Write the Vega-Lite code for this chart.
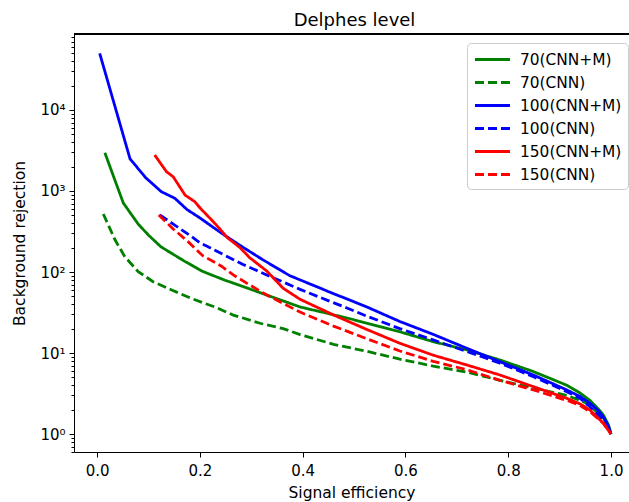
{
  "$schema": "https://vega.github.io/schema/vega-lite/v6.json",
  "width": 555,
  "height": 418,
  "autosize": {"type": "none"},
  "padding": {"left": 74, "top": 34, "right": 0, "bottom": 50},
  "background": "white",
  "title": {"text": "Delphes level", "fontSize": 18, "font": "DejaVu Sans", "fontWeight": "normal", "color": "black", "offset": 0, "dx": 3},
  "config": {
    "view": {"stroke": null},
    "axis": {"domainColor": "black", "domainWidth": 1, "tickColor": "black", "tickWidth": 1, "labelColor": "black", "titleColor": "black", "labelFont": "DejaVu Sans", "titleFont": "DejaVu Sans", "titleFontWeight": "normal", "grid": false}
  },
  "data": {"values": [
    {"series": "70(CNN+M)", "eff": 0.015, "rej": 2970},
    {"series": "70(CNN+M)", "eff": 0.033, "rej": 1450},
    {"series": "70(CNN+M)", "eff": 0.051, "rej": 710},
    {"series": "70(CNN+M)", "eff": 0.08, "rej": 390},
    {"series": "70(CNN+M)", "eff": 0.1, "rej": 285},
    {"series": "70(CNN+M)", "eff": 0.124, "rej": 205},
    {"series": "70(CNN+M)", "eff": 0.17, "rej": 136},
    {"series": "70(CNN+M)", "eff": 0.205, "rej": 102},
    {"series": "70(CNN+M)", "eff": 0.249, "rej": 79},
    {"series": "70(CNN+M)", "eff": 0.265, "rej": 73},
    {"series": "70(CNN+M)", "eff": 0.33, "rej": 52},
    {"series": "70(CNN+M)", "eff": 0.395, "rej": 37},
    {"series": "70(CNN+M)", "eff": 0.447, "rej": 31},
    {"series": "70(CNN+M)", "eff": 0.492, "rej": 26.5},
    {"series": "70(CNN+M)", "eff": 0.525, "rej": 23.3},
    {"series": "70(CNN+M)", "eff": 0.589, "rej": 18.3},
    {"series": "70(CNN+M)", "eff": 0.654, "rej": 13.8},
    {"series": "70(CNN+M)", "eff": 0.72, "rej": 10.9},
    {"series": "70(CNN+M)", "eff": 0.784, "rej": 8.2},
    {"series": "70(CNN+M)", "eff": 0.849, "rej": 5.9},
    {"series": "70(CNN+M)", "eff": 0.914, "rej": 4.0},
    {"series": "70(CNN+M)", "eff": 0.94, "rej": 3.2},
    {"series": "70(CNN+M)", "eff": 0.959, "rej": 2.6},
    {"series": "70(CNN+M)", "eff": 0.975, "rej": 2.05},
    {"series": "70(CNN+M)", "eff": 0.985, "rej": 1.72},
    {"series": "70(CNN+M)", "eff": 0.995, "rej": 1.3},
    {"series": "70(CNN+M)", "eff": 1.0, "rej": 1.0},

    {"series": "70(CNN)", "eff": 0.012, "rej": 520},
    {"series": "70(CNN)", "eff": 0.035, "rej": 248},
    {"series": "70(CNN)", "eff": 0.054, "rej": 154},
    {"series": "70(CNN)", "eff": 0.08, "rej": 101},
    {"series": "70(CNN)", "eff": 0.109, "rej": 76},
    {"series": "70(CNN)", "eff": 0.145, "rej": 60},
    {"series": "70(CNN)", "eff": 0.184, "rej": 47},
    {"series": "70(CNN)", "eff": 0.229, "rej": 37},
    {"series": "70(CNN)", "eff": 0.265, "rej": 29.4},
    {"series": "70(CNN)", "eff": 0.317, "rej": 23.3},
    {"series": "70(CNN)", "eff": 0.362, "rej": 20},
    {"series": "70(CNN)", "eff": 0.395, "rej": 16.9},
    {"series": "70(CNN)", "eff": 0.46, "rej": 12.8},
    {"series": "70(CNN)", "eff": 0.525, "rej": 10.5},
    {"series": "70(CNN)", "eff": 0.589, "rej": 8.4},
    {"series": "70(CNN)", "eff": 0.654, "rej": 6.9},
    {"series": "70(CNN)", "eff": 0.72, "rej": 5.8},
    {"series": "70(CNN)", "eff": 0.784, "rej": 4.6},
    {"series": "70(CNN)", "eff": 0.849, "rej": 3.7},
    {"series": "70(CNN)", "eff": 0.914, "rej": 3.0},
    {"series": "70(CNN)", "eff": 0.953, "rej": 2.4},
    {"series": "70(CNN)", "eff": 0.985, "rej": 1.6},
    {"series": "70(CNN)", "eff": 1.0, "rej": 1.0},

    {"series": "100(CNN+M)", "eff": 0.005, "rej": 50000},
    {"series": "100(CNN+M)", "eff": 0.064, "rej": 2500},
    {"series": "100(CNN+M)", "eff": 0.094, "rej": 1470},
    {"series": "100(CNN+M)", "eff": 0.125, "rej": 980},
    {"series": "100(CNN+M)", "eff": 0.151, "rej": 815},
    {"series": "100(CNN+M)", "eff": 0.175, "rej": 590},
    {"series": "100(CNN+M)", "eff": 0.2, "rej": 465},
    {"series": "100(CNN+M)", "eff": 0.24, "rej": 308},
    {"series": "100(CNN+M)", "eff": 0.278, "rej": 213},
    {"series": "100(CNN+M)", "eff": 0.323, "rej": 141},
    {"series": "100(CNN+M)", "eff": 0.375, "rej": 90},
    {"series": "100(CNN+M)", "eff": 0.427, "rej": 66},
    {"series": "100(CNN+M)", "eff": 0.46, "rej": 54},
    {"series": "100(CNN+M)", "eff": 0.492, "rej": 45},
    {"series": "100(CNN+M)", "eff": 0.525, "rej": 37},
    {"series": "100(CNN+M)", "eff": 0.589, "rej": 24.5},
    {"series": "100(CNN+M)", "eff": 0.654, "rej": 17},
    {"series": "100(CNN+M)", "eff": 0.72, "rej": 11.4},
    {"series": "100(CNN+M)", "eff": 0.784, "rej": 7.8},
    {"series": "100(CNN+M)", "eff": 0.849, "rej": 5.35},
    {"series": "100(CNN+M)", "eff": 0.914, "rej": 3.5},
    {"series": "100(CNN+M)", "eff": 0.94, "rej": 2.9},
    {"series": "100(CNN+M)", "eff": 0.959, "rej": 2.4},
    {"series": "100(CNN+M)", "eff": 0.975, "rej": 1.95},
    {"series": "100(CNN+M)", "eff": 0.985, "rej": 1.63},
    {"series": "100(CNN+M)", "eff": 0.995, "rej": 1.25},
    {"series": "100(CNN+M)", "eff": 1.0, "rej": 1.0},

    {"series": "100(CNN)", "eff": 0.122, "rej": 506},
    {"series": "100(CNN)", "eff": 0.151, "rej": 380},
    {"series": "100(CNN)", "eff": 0.184, "rej": 273},
    {"series": "100(CNN)", "eff": 0.2, "rej": 230},
    {"series": "100(CNN)", "eff": 0.216, "rej": 205},
    {"series": "100(CNN)", "eff": 0.245, "rej": 165},
    {"series": "100(CNN)", "eff": 0.284, "rej": 124},
    {"series": "100(CNN)", "eff": 0.33, "rej": 92},
    {"series": "100(CNN)", "eff": 0.395, "rej": 61},
    {"series": "100(CNN)", "eff": 0.447, "rej": 45},
    {"series": "100(CNN)", "eff": 0.486, "rej": 36},
    {"series": "100(CNN)", "eff": 0.525, "rej": 28.5},
    {"series": "100(CNN)", "eff": 0.589, "rej": 20},
    {"series": "100(CNN)", "eff": 0.654, "rej": 14.5},
    {"series": "100(CNN)", "eff": 0.72, "rej": 10.4},
    {"series": "100(CNN)", "eff": 0.784, "rej": 7.5},
    {"series": "100(CNN)", "eff": 0.849, "rej": 5.1},
    {"series": "100(CNN)", "eff": 0.914, "rej": 3.33},
    {"series": "100(CNN)", "eff": 0.94, "rej": 2.75},
    {"series": "100(CNN)", "eff": 0.959, "rej": 2.17},
    {"series": "100(CNN)", "eff": 0.985, "rej": 1.49},
    {"series": "100(CNN)", "eff": 1.0, "rej": 1.0},

    {"series": "150(CNN+M)", "eff": 0.112, "rej": 2780},
    {"series": "150(CNN+M)", "eff": 0.135, "rej": 1730},
    {"series": "150(CNN+M)", "eff": 0.148, "rej": 1500},
    {"series": "150(CNN+M)", "eff": 0.171, "rej": 893},
    {"series": "150(CNN+M)", "eff": 0.19, "rej": 738},
    {"series": "150(CNN+M)", "eff": 0.2, "rej": 620},
    {"series": "150(CNN+M)", "eff": 0.223, "rej": 438},
    {"series": "150(CNN+M)", "eff": 0.239, "rej": 340},
    {"series": "150(CNN+M)", "eff": 0.252, "rej": 270},
    {"series": "150(CNN+M)", "eff": 0.278, "rej": 200},
    {"series": "150(CNN+M)", "eff": 0.297, "rej": 150},
    {"series": "150(CNN+M)", "eff": 0.33, "rej": 103},
    {"series": "150(CNN+M)", "eff": 0.362, "rej": 63},
    {"series": "150(CNN+M)", "eff": 0.395, "rej": 46},
    {"series": "150(CNN+M)", "eff": 0.46, "rej": 29.5},
    {"series": "150(CNN+M)", "eff": 0.525, "rej": 19.5},
    {"series": "150(CNN+M)", "eff": 0.589, "rej": 13.2},
    {"series": "150(CNN+M)", "eff": 0.654, "rej": 9.4},
    {"series": "150(CNN+M)", "eff": 0.72, "rej": 7.1},
    {"series": "150(CNN+M)", "eff": 0.784, "rej": 5.35},
    {"series": "150(CNN+M)", "eff": 0.849, "rej": 3.84},
    {"series": "150(CNN+M)", "eff": 0.914, "rej": 2.76},
    {"series": "150(CNN+M)", "eff": 0.94, "rej": 2.35},
    {"series": "150(CNN+M)", "eff": 0.959, "rej": 1.98},
    {"series": "150(CNN+M)", "eff": 0.985, "rej": 1.36},
    {"series": "150(CNN+M)", "eff": 1.0, "rej": 1.0},

    {"series": "150(CNN)", "eff": 0.12, "rej": 506},
    {"series": "150(CNN)", "eff": 0.148, "rej": 340},
    {"series": "150(CNN)", "eff": 0.177, "rej": 237},
    {"series": "150(CNN)", "eff": 0.205, "rej": 160},
    {"series": "150(CNN)", "eff": 0.242, "rej": 118},
    {"series": "150(CNN)", "eff": 0.265, "rej": 92},
    {"series": "150(CNN)", "eff": 0.291, "rej": 73},
    {"series": "150(CNN)", "eff": 0.33, "rej": 52},
    {"series": "150(CNN)", "eff": 0.395, "rej": 32},
    {"series": "150(CNN)", "eff": 0.46, "rej": 21.5},
    {"series": "150(CNN)", "eff": 0.525, "rej": 15},
    {"series": "150(CNN)", "eff": 0.589, "rej": 10.6},
    {"series": "150(CNN)", "eff": 0.654, "rej": 7.9},
    {"series": "150(CNN)", "eff": 0.72, "rej": 6.2},
    {"series": "150(CNN)", "eff": 0.784, "rej": 4.6},
    {"series": "150(CNN)", "eff": 0.849, "rej": 3.5},
    {"series": "150(CNN)", "eff": 0.914, "rej": 2.6},
    {"series": "150(CNN)", "eff": 0.94, "rej": 2.25},
    {"series": "150(CNN)", "eff": 0.959, "rej": 1.89},
    {"series": "150(CNN)", "eff": 0.985, "rej": 1.36},
    {"series": "150(CNN)", "eff": 1.0, "rej": 1.0}
  ]},
  "layer": [
    {
      "mark": {"type": "line", "strokeWidth": 2.8},
      "encoding": {
        "x": {"field": "eff", "type": "quantitative",
          "scale": {"domain": [-0.045, 1.035], "nice": false, "zero": false},
          "axis": {"values": [0, 0.2, 0.4, 0.6, 0.8, 1.0], "format": ".1f", "labelFontSize": 15, "tickSize": 5, "labelPadding": 6, "title": "Signal efficiency", "titleFontSize": 15.5, "titlePadding": 7}},
        "y": {"field": "rej", "type": "quantitative",
          "scale": {"type": "log", "domain": [0.6, 86700], "nice": false},
          "axis": {
            "values": [0.6, 0.7, 0.8, 0.9, 1, 2, 3, 4, 5, 6, 7, 8, 9, 10, 20, 30, 40, 50, 60, 70, 80, 90, 100, 200, 300, 400, 500, 600, 700, 800, 900, 1000, 2000, 3000, 4000, 5000, 6000, 7000, 8000, 9000, 10000, 20000, 30000, 40000, 50000, 60000, 70000, 80000],
            "labelExpr": "datum.value == 1 ? '10⁰' : datum.value == 10 ? '10¹' : datum.value == 100 ? '10²' : datum.value == 1000 ? '10³' : datum.value == 10000 ? '10⁴' : ''",
            "labelOverlap": false,
            "labelFontSize": 15,
            "labelPadding": 4,
            "tickSize": {"condition": {"test": "indexof([1, 10, 100, 1000, 10000], datum.value) >= 0", "value": 5}, "value": 3},
            "title": "Background rejection", "titleFontSize": 15.5, "titlePadding": 12}},
        "color": {"field": "series", "type": "nominal",
          "scale": {"domain": ["70(CNN+M)", "70(CNN)", "100(CNN+M)", "100(CNN)", "150(CNN+M)", "150(CNN)"], "range": ["#008000", "#008000", "#0000ff", "#0000ff", "#ff0000", "#ff0000"]},
          "legend": {"orient": "none", "legendX": 393, "legendY": 9, "title": null, "symbolType": "M-2,0H2", "symbolSize": 306, "symbolOffset": 9, "symbolStrokeWidth": 2.8, "labelFontSize": 15.4, "labelFont": "DejaVu Sans", "labelColor": "black", "strokeColor": "#cccccc", "fillColor": "white", "cornerRadius": 4, "padding": 6, "labelOffset": 17, "rowPadding": 4}},
        "strokeDash": {"field": "series", "type": "nominal",
          "scale": {"domain": ["70(CNN+M)", "70(CNN)", "100(CNN+M)", "100(CNN)", "150(CNN+M)", "150(CNN)"], "range": [[1, 0], [9, 4], [1, 0], [9, 4], [1, 0], [9, 4]]},
          "legend": {"orient": "none", "legendX": 393, "legendY": 9, "title": null, "symbolType": "M-2,0H2", "symbolSize": 306, "symbolOffset": 9, "symbolStrokeWidth": 2.8, "labelFontSize": 15.4, "labelFont": "DejaVu Sans", "labelColor": "black", "strokeColor": "#cccccc", "fillColor": "white", "cornerRadius": 4, "padding": 6, "labelOffset": 17, "rowPadding": 4}}
      }
    },
    {
      "mark": {"type": "rule", "color": "black", "strokeWidth": 1},
      "encoding": {"y": {"datum": 86700}}
    }
  ]
}
